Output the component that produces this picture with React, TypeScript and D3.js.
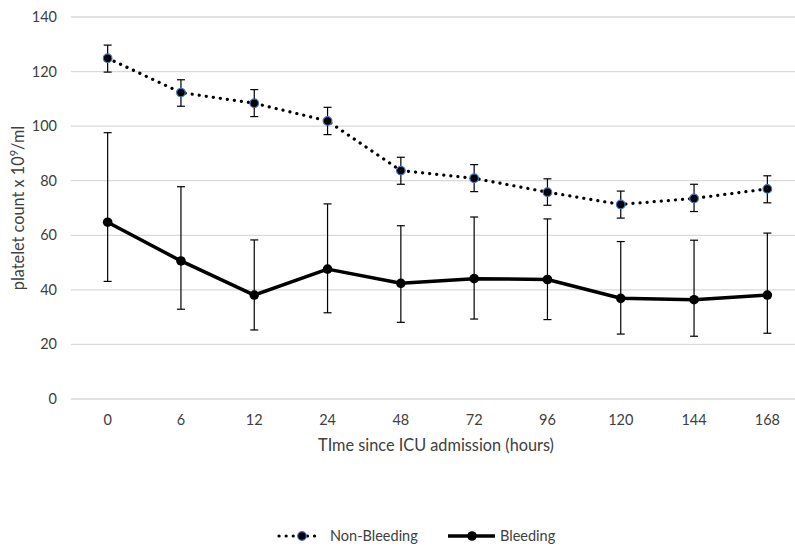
import React from "react";
import * as d3 from "d3";

const categories = ["0", "6", "12", "24", "48", "72", "96", "120", "144", "168"];
const nonBleeding = [124.9, 112.3, 108.4, 101.9, 83.7, 80.9, 75.8, 71.3, 73.5, 77.0];
const nonBleedingHi = [129.7, 117.0, 113.4, 106.9, 88.6, 85.9, 80.7, 76.2, 78.7, 81.8];
const nonBleedingLo = [119.8, 107.3, 103.5, 96.9, 78.7, 76.0, 71.0, 66.3, 68.7, 71.9];
const bleeding = [64.8, 50.6, 38.1, 47.6, 42.4, 44.1, 43.8, 36.9, 36.4, 38.1];
const bleedingHi = [97.6, 77.8, 58.3, 71.5, 63.5, 66.7, 66.0, 57.7, 58.2, 60.8];
const bleedingLo = [43.1, 32.9, 25.3, 31.6, 28.1, 29.3, 29.1, 23.8, 23.0, 24.1];
const yTicks = [0, 20, 40, 60, 80, 100, 120, 140];

const W = 795;
const H = 549;
const FONT = "Lato, 'Open Sans', sans-serif";
const TXT = "#404040";

export default function App() {
  const x = d3.scaleBand<string>().domain(categories).range([71, 71 + 73.3 * 10]);
  const cx = (c: string) => (x(c) as number) + x.bandwidth() / 2;
  const y = d3.scaleLinear().domain([0, 140]).range([399, 17]);

  const line = d3
    .line<number>()
    .x((_, i) => cx(categories[i]))
    .y((d) => y(d));

  const errBars = (hi: number[], lo: number[], key: string) =>
    categories.map((c, i) => {
      const px = cx(c);
      return (
        <g key={key + i} stroke="#000" strokeWidth={1.2}>
          <line x1={px} x2={px} y1={y(hi[i])} y2={y(lo[i])} />
          <line x1={px - 4} x2={px + 4} y1={y(hi[i])} y2={y(hi[i])} />
          <line x1={px - 4} x2={px + 4} y1={y(lo[i])} y2={y(lo[i])} />
        </g>
      );
    });

  return (
    <svg width={W} height={H} style={{ position: "absolute", left: 0, top: 0, background: "#fff" }}>
      <rect width={W} height={H} fill="#fff" />
      {yTicks.map((t) => (
        <g key={t}>
          <line x1={71} x2={W} y1={y(t)} y2={y(t)} stroke="#d9d9d9" strokeWidth={1.3} />
          <text x={57} y={y(t) + 5} textAnchor="end" fontFamily={FONT} fontSize={14.5} fill={TXT}>
            {t}
          </text>
        </g>
      ))}
      {categories.map((c) => (
        <text key={c} x={cx(c)} y={425} textAnchor="middle" fontFamily={FONT} fontSize={14.5} fill={TXT}>
          {c}
        </text>
      ))}
      <text x={436} y={451} textAnchor="middle" fontFamily={FONT} fontSize={16.3} fill={TXT}>
        TIme since ICU admission (hours)
      </text>
      <text
        transform={`translate(24,208) rotate(-90)`}
        textAnchor="middle"
        fontFamily={FONT}
        fontSize={16.3}
        fill={TXT}
      >
        platelet count x 10<tspan dy={-6} fontSize={11}>9</tspan>
        <tspan dy={6}>/ml</tspan>
      </text>

      {errBars(bleedingHi, bleedingLo, "b")}
      {errBars(nonBleedingHi, nonBleedingLo, "n")}

      <path d={line(bleeding) || ""} fill="none" stroke="#000" strokeWidth={3.5} strokeLinejoin="round" />
      <path
        d={line(nonBleeding) || ""}
        fill="none"
        stroke="#000"
        strokeWidth={3.2}
        strokeLinecap="round"
        strokeDasharray="0.1 7"
      />
      {bleeding.map((v, i) => (
        <circle key={"bc" + i} cx={cx(categories[i])} cy={y(v)} r={4.8} fill="#000" />
      ))}
      {nonBleeding.map((v, i) => (
        <circle key={"nc" + i} cx={cx(categories[i])} cy={y(v)} r={4.3} fill="#000" stroke="#4472c4" strokeWidth={1.2} />
      ))}

      {/* legend */}
      <line x1={279} x2={320} y1={536} y2={536} stroke="#000" strokeWidth={3.2} strokeLinecap="round" strokeDasharray="0.1 7" />
      <circle cx={302} cy={536} r={4.3} fill="#000" stroke="#4472c4" strokeWidth={1.2} />
      <text x={330} y={541} fontFamily={FONT} fontSize={14.5} fill={TXT}>Non-Bleeding</text>
      <line x1={448} x2={495} y1={536} y2={536} stroke="#000" strokeWidth={3.5} />
      <circle cx={472} cy={536} r={4.8} fill="#000" />
      <text x={500} y={541} fontFamily={FONT} fontSize={14.5} fill={TXT}>Bleeding</text>
    </svg>
  );
}
